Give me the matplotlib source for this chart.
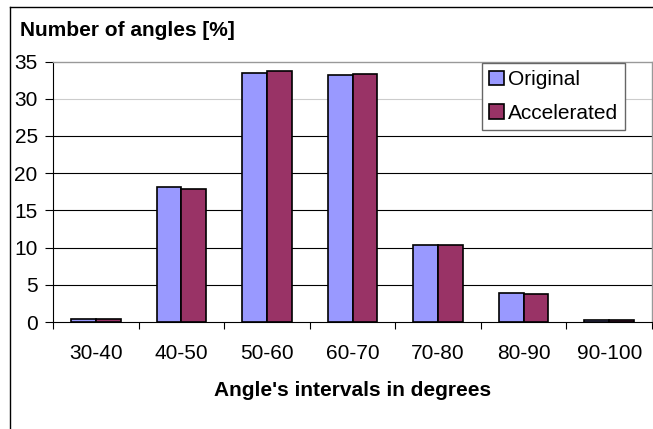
import matplotlib
matplotlib.use("Agg")
import matplotlib.pyplot as plt
from matplotlib.lines import Line2D
from matplotlib.patches import Patch
import numpy as np

plt.rcParams['font.family'] = ['Liberation Sans', 'DejaVu Sans']

categories = ["30-40", "40-50", "50-60", "60-70", "70-80", "80-90", "90-100"]
original = [0.4, 18.2, 33.4, 33.2, 10.3, 3.9, 0.3]
accelerated = [0.4, 17.9, 33.7, 33.3, 10.3, 3.8, 0.3]
series_names = ["Original", "Accelerated"]
y_ticks = [0, 5, 10, 15, 20, 25, 30, 35]

W, H = 653, 429
FS = 15
fig = plt.figure(figsize=(W / 100, H / 100), dpi=100)
ax = fig.add_axes([53 / W, 1 - 322 / H, (652 - 53) / W, (322 - 61.5) / H])

x = np.arange(len(categories))
bw = 0.29
c1, c2 = "#9999FF", "#993366"
ax.bar(x - bw / 2, original, bw, color=c1, edgecolor="black", linewidth=1.2, zorder=3)
ax.bar(x + bw / 2, accelerated, bw, color=c2, edgecolor="black", linewidth=1.2, zorder=3)

ax.set_xlim(-0.5, len(categories) - 0.5)
ax.set_ylim(0, 35)

for yt in y_ticks[1:-1]:
    col = "#cccccc" if yt == 30 else "black"
    ax.axhline(yt, color=col, linewidth=0.8, zorder=1)

ax.set_yticks(y_ticks)
ax.set_yticklabels([str(v) for v in y_ticks], fontsize=FS)
ax.set_xticks(np.arange(-0.5, len(categories), 1.0))
ax.set_xticklabels([])
ax.set_xticks(x, minor=True)
ax.set_xticklabels(categories, minor=True, fontsize=FS)
ax.tick_params(axis="x", which="minor", length=0, pad=16)
ax.tick_params(axis="x", which="major", length=5, width=0.8, direction="out")
ax.tick_params(axis="y", length=6, width=0.8, direction="out", pad=5)

for s in ["top", "right"]:
    ax.spines[s].set_color("#999999")
    ax.spines[s].set_linewidth(1.0)
for s in ["left", "bottom"]:
    ax.spines[s].set_color("black")
    ax.spines[s].set_linewidth(0.8)

handles = [Patch(facecolor=c1, edgecolor="black", linewidth=1.2),
           Patch(facecolor=c2, edgecolor="black", linewidth=1.2)]
leg = ax.legend(handles, series_names, loc="upper left",
                bbox_to_anchor=((482 - 53) / (652 - 53), 1 - (63 - 61.5) / (322 - 61.5)),
                fontsize=FS, frameon=True, fancybox=False, framealpha=1,
                edgecolor="#666666", handlelength=0.7, handleheight=0.7,
                handletextpad=0.2, borderpad=0.35, labelspacing=0.7,
                borderaxespad=0)
leg.get_frame().set_linewidth(1.0)

fig.text(20 / W, 1 - 30 / H, "Number of angles [%]", fontsize=FS,
         fontweight="bold", ha="left", va="center")
fig.text(353 / W, 1 - 390 / H, "Angle's intervals in degrees", fontsize=FS,
         fontweight="bold", ha="center", va="center")

fig.add_artist(Line2D([10 / W, 10 / W], [0, 1 - 7 / H], transform=fig.transFigure,
                      color="black", linewidth=1.0))
fig.add_artist(Line2D([10 / W, 1], [1 - 7 / H, 1 - 7 / H], transform=fig.transFigure,
                      color="black", linewidth=1.0))

fig.savefig("out.png", dpi=100)
